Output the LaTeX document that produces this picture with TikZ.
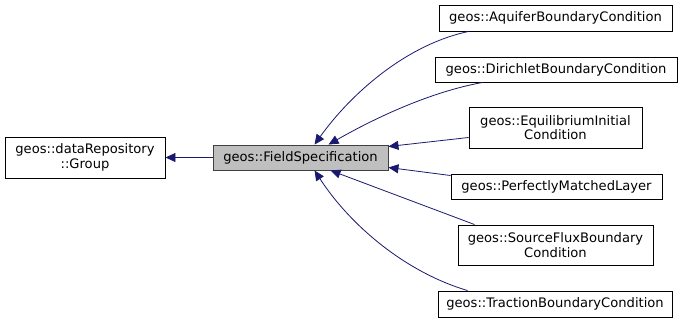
\documentclass[tikz,border=0pt]{standalone}
\usepackage{fontspec}
\setmainfont{DejaVu Sans}
\usepackage{xcolor}
\usetikzlibrary{positioning,arrows.meta}
\definecolor{edgeblue}{HTML}{191970}
\definecolor{basegray}{HTML}{BFBFBF}
\tikzset{
  cls/.style={draw=black,fill=white,line width=0.9pt,inner sep=0pt,align=center,
    font=\fontsize{13.1}{14.6}\selectfont},
  inh/.style={draw=edgeblue,line width=0.8pt,
    -{Triangle[length=10pt,width=9pt,fill=edgeblue]}}
}
\begin{document}
\begin{tikzpicture}[x=1pt,y=-1pt]
    \useasboundingbox (0,0) rectangle (681,323);
    % classes
    \node[cls,minimum width=160pt,minimum height=41pt] (grp) at (85,157.5) {geos::dataRepository\\::Group};
    \node[cls,fill=basegray,draw=black!75,minimum width=175pt,minimum height=25pt] (fs) at (300.5,157.5) {geos::FieldSpecification};
    \node[cls,minimum width=233pt,minimum height=26pt] (aq) at (555.5,18) {geos::AquiferBoundaryCondition};
    \node[cls,minimum width=242pt,minimum height=25pt] (dir) at (556,69.5) {geos::DirichletBoundaryCondition};
    \node[cls,minimum width=173pt,minimum height=41pt] (eq) at (555.5,127.5) {geos::EquilibriumInitial\\Condition};
    \node[cls,minimum width=211pt,minimum height=25pt] (pml) at (556.5,186.5) {geos::PerfectlyMatchedLayer};
    \node[cls,minimum width=195pt,minimum height=40pt] (sf) at (555.5,245) {geos::SourceFluxBoundary\\Condition};
    \node[cls,minimum width=234pt,minimum height=26pt] (tr) at (555,304) {geos::TractionBoundaryCondition};
    % inheritance
    \draw[inh] (fs.west) -- (grp.east);
    \draw[inh] ([xshift=30pt]aq.south west) .. controls (405,45) and (350,95) .. ([xshift=102pt]fs.north west);
    \draw[inh] ([xshift=48pt]dir.south west) .. controls (430,92) and (375,118) .. ([xshift=116pt]fs.north west);
    \draw[inh] ([yshift=-10pt]eq.west) -- ([yshift=11pt]fs.east);
    \draw[inh] ([yshift=11pt]pml.west) -- ([yshift=-10pt]fs.east);
    \draw[inh] ([xshift=17pt]sf.north west) -- ([xshift=118pt]fs.south west);
    \draw[inh] ([xshift=30pt]tr.north west) .. controls (405,272) and (350,225) .. ([xshift=102pt]fs.south west);
\end{tikzpicture}
\end{document}
